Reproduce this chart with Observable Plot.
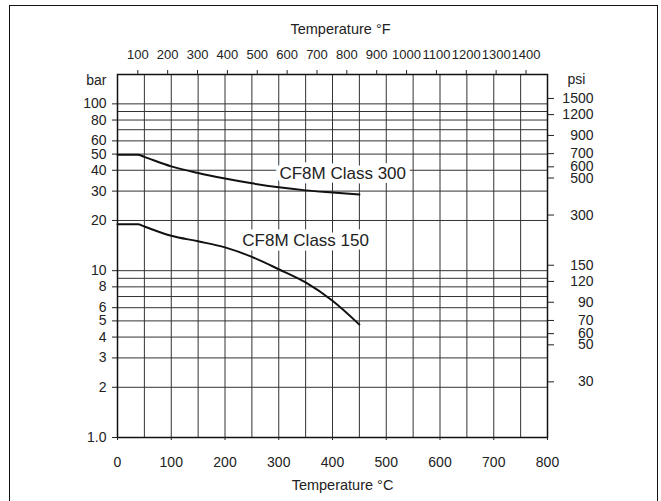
<!DOCTYPE html>
<html>
<head>
<meta charset="utf-8">
<script src="https://cdn.jsdelivr.net/npm/d3@7"></script>
<script src="https://cdn.jsdelivr.net/npm/@observablehq/plot@0.6"></script>
<style>
  html, body { margin: 0; padding: 0; background: #fff; overflow: hidden; }
  #wrap { position: relative; width: 661px; height: 501px; }
  #border { position: absolute; left: 8.5px; top: 5px; width: 647px; height: 510px; border: 1.5px solid #111; pointer-events: none; }
</style>
</head>
<body>
<div id="wrap"><div id="border"></div></div>
<script>
// Temperatures (°C) and allowable pressures (bar)
const temps = [0, 38, 50, 100, 150, 200, 250, 300, 350, 400, 450];
const class300 = [49.6, 49.6, 48.1, 42.2, 38.5, 35.7, 33.4, 31.6, 30.3, 29.4, 28.6];
const class150 = [19.0, 19.0, 18.4, 16.2, 15.0, 13.8, 12.1, 10.2, 8.5, 6.6, 4.75];

const seriesNames = ["CF8M Class 300", "CF8M Class 150"];
const labelTemps = [419, 350];
const labelBars = [38.1, 15.2];

// Axes / ticks
const celsiusTicks = [0, 100, 200, 300, 400, 500, 600, 700, 800];
const celsiusGrid = [0, 50, 100, 150, 200, 250, 300, 350, 400, 450, 500, 550, 600, 650, 700, 750, 800];
const fahrenheitTicks = [100, 200, 300, 400, 500, 600, 700, 800, 900, 1000, 1100, 1200, 1300, 1400];
const barTicks = [1, 2, 3, 4, 5, 6, 8, 10, 20, 30, 40, 50, 60, 80, 100];
const barTickLabels = ["1.0", "2", "3", "4", "5", "6", "8", "10", "20", "30", "40", "50", "60", "80", "100"];
const barGrid = [2, 3, 4, 5, 6, 7, 8, 9, 10, 20, 30, 40, 50, 60, 70, 80, 90, 100];
// psi ticks: the first group's labels sit a little higher than the second's (stacked pairs)
const psiTicksUpper = [1500, 1200, 900, 700, 500, 300, 150, 120, 90, 70, 50, 30];
const psiTicksLower = [600, 60];

const PSI_TO_BAR = 0.0689476;
const fToC = f => (f - 32) * 5 / 9;

const rows = [];
temps.forEach((t, i) => {
  rows.push({series: seriesNames[0], t, p: class300[i]});
  rows.push({series: seriesNames[1], t, p: class150[i]});
});
const labels = seriesNames.map((s, i) => ({s, t: labelTemps[i], p: labelBars[i]}));

const ink = "#222";
const psiAxis = (ticks, dy) => Plot.axisY(ticks.map(p => p * PSI_TO_BAR), {
  anchor: "right", tickSize: 6, tickPadding: 40, textAnchor: "end", dy, fontSize: 14, label: null,
  text: d => String(Math.round(d / PSI_TO_BAR)), stroke: ink, fill: ink
});

const chart = Plot.plot({
  width: 661,
  height: 501,
  marginLeft: 117,
  marginRight: 114,
  marginTop: 74,
  marginBottom: 64,
  style: {fontFamily: "'Liberation Sans', Arial, Helvetica, sans-serif", fontSize: "14px", color: ink, background: "transparent"},
  x: {domain: [0, 800], label: null},
  y: {type: "log", domain: [1, 150], label: null},
  marks: [
    Plot.ruleX(celsiusGrid, {stroke: "#333", strokeWidth: 1}),
    Plot.ruleY(barGrid, {stroke: "#333", strokeWidth: 1}),
    Plot.frame({stroke: "#111", strokeWidth: 1.5}),
    // bottom °C axis
    Plot.axisX(celsiusTicks, {anchor: "bottom", tickSize: 3, tickPadding: 17, fontSize: 14, label: null,
      text: d => String(d), stroke: ink, fill: ink}),
    // top °F axis
    Plot.axisX(fahrenheitTicks.map(fToC), {anchor: "top", tickSize: 5, tickPadding: 11, fontSize: 13, label: null,
      text: d => String(Math.round(d * 9 / 5 + 32)), stroke: ink, fill: ink}),
    // left bar axis
    Plot.axisY(barTicks, {anchor: "left", tickSize: 5, tickPadding: 6, fontSize: 14, label: null,
      text: d => barTickLabels[barTicks.indexOf(d)], stroke: ink, fill: ink}),
    // right psi axis
    psiAxis(psiTicksUpper, -3),
    psiAxis(psiTicksLower, -1),
    // curves
    Plot.line(rows, {x: "t", y: "p", z: "series", curve: "monotone-x", stroke: "#111", strokeWidth: 2}),
    // curve labels (white background)
    Plot.text(labels, {x: "t", y: "p", text: "s", fontSize: 17, fill: ink, stroke: "white", strokeWidth: 9, strokeLinejoin: "miter"}),
    // axis titles
    Plot.text(["Temperature °F"], {text: d => d, frameAnchor: "top", lineAnchor: "middle", dx: 8, dy: -45, fontSize: 14.5, fill: ink}),
    Plot.text(["Temperature °C"], {text: d => d, frameAnchor: "bottom", lineAnchor: "middle", dx: 10, dy: 48, fontSize: 14.5, fill: ink}),
    Plot.text(["bar"], {text: d => d, frameAnchor: "top-left", lineAnchor: "middle", textAnchor: "end", dx: -11, dy: 6, fontSize: 14, fill: ink}),
    Plot.text(["psi"], {text: d => d, frameAnchor: "top-right", lineAnchor: "middle", textAnchor: "start", dx: 20, dy: 5.5, fontSize: 14, fill: ink})
  ]
});
document.getElementById("wrap").prepend(chart);
</script>
</body>
</html>
